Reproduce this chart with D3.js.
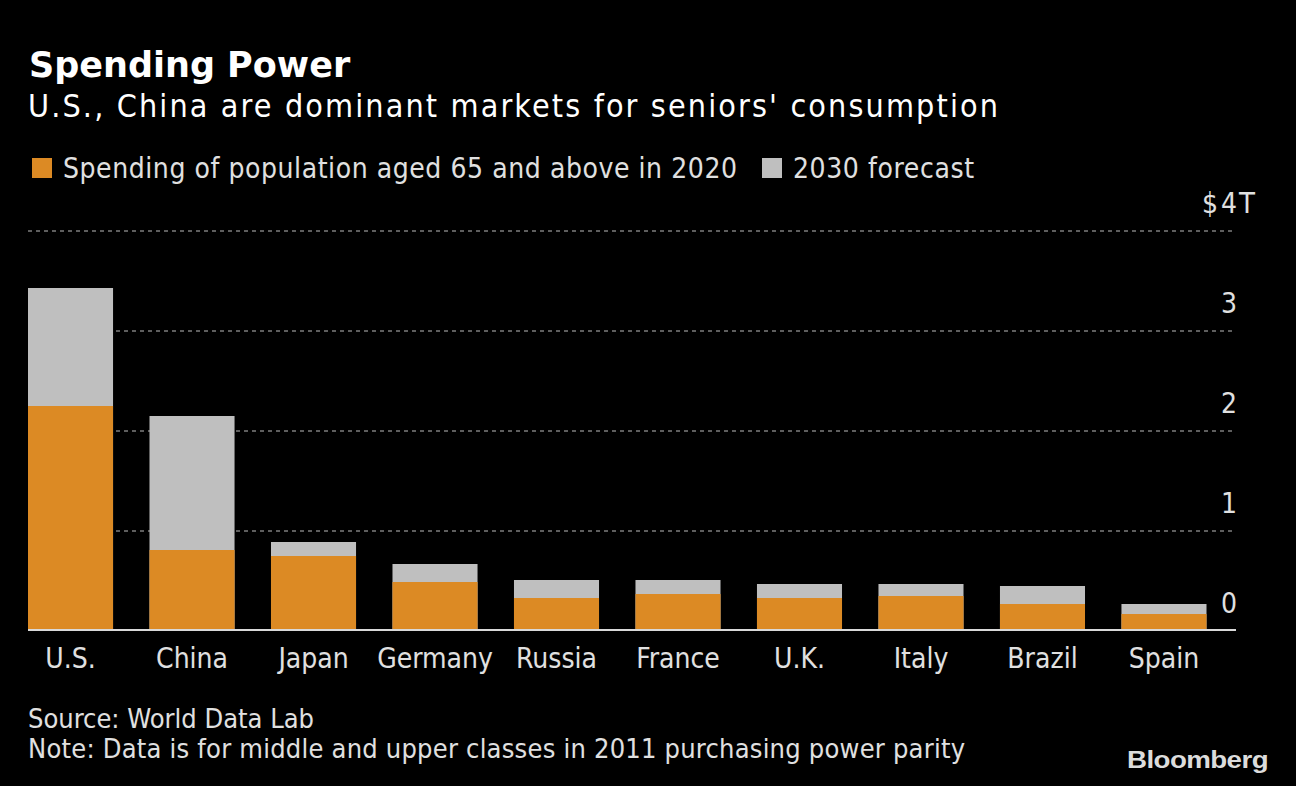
<!DOCTYPE html>
<html>
<head>
<meta charset="utf-8">
<script src="https://cdn.jsdelivr.net/npm/d3@7"></script>
<style>
  html, body { margin: 0; padding: 0; background: #000; }
  svg { display: block; }
  text { font-family: 'DejaVu Sans Condensed', 'DejaVu Sans', sans-serif; }
</style>
</head>
<body>
<svg id="chart"></svg>
<script>
const countries = ['U.S.', 'China', 'Japan', 'Germany', 'Russia', 'France', 'U.K.', 'Italy', 'Brazil', 'Spain'];
const spend2020 = [2.25, 0.81, 0.75, 0.49, 0.33, 0.37, 0.33, 0.35, 0.27, 0.17];
const spend2030 = [3.43, 2.15, 0.89, 0.67, 0.51, 0.51, 0.47, 0.47, 0.45, 0.27];
const yTicks = [0, 1, 2, 3, 4];
const legendLabels = ['Spending of population aged 65 and above in 2020', '2030 forecast'];

const width = 1296;
const height = 786;
const orange = '#dc8a24';
const grey = '#bfbfbf';
const textColor = '#e0e0e0';

const svg = d3.select('#chart')
  .attr('width', width)
  .attr('height', height);

svg.append('rect')
  .attr('width', width)
  .attr('height', height)
  .attr('fill', '#000');

const data = countries.map((c, i) => ({ name: c, v2020: spend2020[i], v2030: spend2030[i] }));

const xScale = d3.scaleBand()
  .domain(countries)
  .range([28, 1206.5])
  .paddingInner(0.3)
  .paddingOuter(0);

const yScale = d3.scaleLinear()
  .domain([0, 4])
  .range([631, 231]);

// dotted grid lines
svg.append('g')
  .selectAll('line')
  .data(yTicks.filter(t => t > 0))
  .enter()
  .append('line')
  .attr('x1', 28)
  .attr('x2', 1236)
  .attr('y1', d => yScale(d))
  .attr('y2', d => yScale(d))
  .attr('stroke', '#5e5e5e')
  .attr('stroke-width', 2)
  .attr('stroke-dasharray', '4,4');

// 2030 forecast bars behind
svg.append('g')
  .selectAll('rect')
  .data(data)
  .enter()
  .append('rect')
  .attr('x', d => xScale(d.name))
  .attr('width', xScale.bandwidth())
  .attr('y', d => yScale(d.v2030))
  .attr('height', d => yScale(0) - yScale(d.v2030))
  .attr('fill', grey);

// 2020 bars in front
svg.append('g')
  .selectAll('rect')
  .data(data)
  .enter()
  .append('rect')
  .attr('x', d => xScale(d.name))
  .attr('width', xScale.bandwidth())
  .attr('y', d => yScale(d.v2020))
  .attr('height', d => yScale(0) - yScale(d.v2020))
  .attr('fill', orange);

// zero line
svg.append('line')
  .attr('x1', 28)
  .attr('x2', 1236)
  .attr('y1', yScale(0) - 1)
  .attr('y2', yScale(0) - 1)
  .attr('stroke', '#d9d9d9')
  .attr('stroke-width', 2);

// right-hand y axis
const yAxis = svg.append('g')
  .attr('transform', 'translate(1237,0)')
  .call(d3.axisRight(yScale).tickValues(yTicks).tickSize(0).tickFormat(d3.format('d')));
yAxis.select('.domain').remove();
yAxis.selectAll('text')
  .attr('x', 0)
  .attr('dy', -19)
  .attr('text-anchor', 'end')
  .attr('fill', textColor)
  .style('font-size', '28px')
  .style('font-family', "'DejaVu Sans Condensed', 'DejaVu Sans', sans-serif");
yAxis.selectAll('.tick')
  .filter(d => d === 4)
  .each(function () {
    const t = d3.select(this);
    t.append('text')
      .attr('x', -19)
      .attr('dy', -19)
      .attr('text-anchor', 'end')
      .attr('fill', textColor)
      .style('font-size', '28px')
      .text('$');
    t.append('text')
      .attr('x', 2)
      .attr('dy', -19)
      .attr('text-anchor', 'start')
      .attr('fill', textColor)
      .style('font-size', '29px')
      .text('T');
  });

// x axis labels
const xAxis = svg.append('g')
  .attr('transform', `translate(0,${yScale(0)})`)
  .call(d3.axisBottom(xScale).tickSize(0));
xAxis.select('.domain').remove();
xAxis.selectAll('text')
  .attr('y', 0)
  .attr('dy', 37)
  .attr('fill', textColor)
  .style('font-size', '28px')
  .style('font-family', "'DejaVu Sans Condensed', 'DejaVu Sans', sans-serif");

// title block
svg.append('text')
  .attr('x', 29)
  .attr('y', 77)
  .attr('fill', '#fff')
  .style('font-family', "'DejaVu Sans', sans-serif")
  .style('font-weight', 'bold')
  .style('font-size', '35px')
  .text('Spending Power');

svg.append('text')
  .attr('x', 28)
  .attr('y', 117)
  .attr('fill', '#fff')
  .attr('textLength', 970)
  .attr('lengthAdjust', 'spacing')
  .style('font-size', '32px')
  .text("U.S., China are dominant markets for seniors' consumption");

// legend
const legendColors = [orange, grey];
const legendX = [32, 762];
const legendLen = [674, 181];
const legend = svg.append('g');
legendLabels.forEach((lbl, i) => {
  legend.append('rect')
    .attr('x', legendX[i])
    .attr('y', 158)
    .attr('width', 20)
    .attr('height', 20)
    .attr('fill', legendColors[i]);
  legend.append('text')
    .attr('x', legendX[i] + 31)
    .attr('y', 178)
    .attr('fill', textColor)
    .attr('textLength', legendLen[i])
    .attr('lengthAdjust', 'spacing')
    .style('font-size', '28px')
    .text(lbl);
});

// footer
svg.append('text')
  .attr('x', 28)
  .attr('y', 728)
  .attr('fill', textColor)
  .style('font-size', '27px')
  .text('Source: World Data Lab');

svg.append('text')
  .attr('x', 28)
  .attr('y', 758)
  .attr('fill', textColor)
  .attr('textLength', 937)
  .attr('lengthAdjust', 'spacing')
  .style('font-size', '27px')
  .text('Note: Data is for middle and upper classes in 2011 purchasing power parity');

svg.append('text')
  .attr('x', 1127)
  .attr('y', 768)
  .attr('fill', '#dcdcdc')
  .attr('textLength', 141)
  .attr('lengthAdjust', 'spacingAndGlyphs')
  .style('font-family', "'Liberation Sans', Arial, sans-serif")
  .style('font-weight', 'bold')
  .style('font-size', '24px')
  .style('letter-spacing', '-0.5px')
  .text('Bloomberg');
</script>
</body>
</html>
